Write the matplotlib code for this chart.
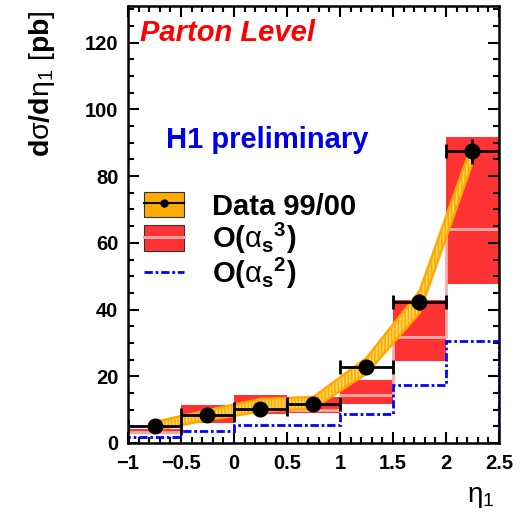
import matplotlib
matplotlib.use("Agg")
import matplotlib.pyplot as plt
from matplotlib.lines import Line2D
from matplotlib.patches import Patch
from matplotlib.ticker import MultipleLocator

# eta_1 bins and cross sections [pb]
eta_edges = [-1.0, -0.5, 0.0, 0.5, 1.0, 1.5, 2.0, 2.5]
eta_mid = [-0.75, -0.25, 0.25, 0.75, 1.25, 1.75, 2.25]
data_xsec = [5.1, 8.3, 10.3, 11.7, 22.7, 42.3, 87.4]
data_err = [0.6, 0.8, 0.9, 1.0, 1.3, 2.5, 3.8]
syst_lo = [3.8, 6.9, 9.4, 10.4, 20.8, 39.0, 84.0]
syst_hi = [6.3, 9.8, 13.2, 13.8, 25.5, 45.5, 90.0]
nlo_lo = [2.6, 6.1, 8.6, 8.9, 11.6, 24.7, 47.6]
nlo_hi = [4.1, 11.3, 14.3, 13.9, 19.0, 43.0, 91.8]
nlo_central = [3.4, 8.3, 10.8, 10.0, 14.4, 31.8, 64.2]
lo_xsec = [1.8, 3.6, 5.3, 5.5, 8.7, 17.3, 30.5]

ORANGE = "#ffaa00"
RED = "#ff3333"
PINK = "#ffaaaa"
BLUE = "#0000ff"
LO_DASH = (0, (3, 1, 1, 1))

plt.rcParams["font.family"] = "Liberation Sans"
plt.rcParams["font.weight"] = "bold"
plt.rcParams["mathtext.fontset"] = "custom"
plt.rcParams["mathtext.rm"] = "Liberation Sans:regular"
plt.rcParams["mathtext.it"] = "Liberation Sans:regular"
plt.rcParams["mathtext.bf"] = "Liberation Sans:bold"
plt.rcParams["mathtext.default"] = "rm"
plt.rcParams["hatch.linewidth"] = 1.2

fig = plt.figure(figsize=(5.31, 5.12), dpi=100)
ax = fig.add_axes([128 / 531, 1 - 443 / 512, 371 / 531, 437 / 512])

# NLO band: red box per bin with the central value as a pink step line
widths = [eta_edges[i + 1] - eta_edges[i] for i in range(len(eta_mid))]
ax.bar(eta_mid, [h - l for h, l in zip(nlo_hi, nlo_lo)], bottom=nlo_lo,
       width=widths, color=RED, linewidth=0, zorder=1)
ax.stairs(nlo_central, eta_edges, baseline=None, color=PINK, lw=2, zorder=2)

# LO prediction
ax.stairs(lo_xsec, eta_edges, baseline=0, color=BLUE, lw=2,
          linestyle=LO_DASH, zorder=2)

# data systematic band
ax.fill_between(eta_mid, syst_lo, syst_hi, facecolor="#ffd966",
                edgecolor=ORANGE, hatch="|||||", lw=1.8, zorder=3)

# data points
ax.errorbar(eta_mid, data_xsec, xerr=[w / 2 for w in widths], fmt="none",
            ecolor="k", elinewidth=2, capsize=5, capthick=2, zorder=4)
ax.errorbar(eta_mid, data_xsec, yerr=data_err, fmt="o", color="k",
            ms=10.5, elinewidth=2, capsize=0, zorder=5)

ax.set_xlim(-1, 2.5)
ax.set_ylim(0, 131)
ax.xaxis.set_major_locator(MultipleLocator(0.5))
ax.xaxis.set_minor_locator(MultipleLocator(0.1))
ax.yaxis.set_major_locator(MultipleLocator(20))
ax.yaxis.set_minor_locator(MultipleLocator(5))
ax.xaxis.set_major_formatter(plt.FuncFormatter(lambda v, p: f"{v:g}".replace("-", "\u2212")))
ax.tick_params(which="both", direction="in", top=True, right=True,
               width=1.5, labelsize=14.5)
ax.tick_params(which="major", length=8)
ax.tick_params(which="minor", length=4)
ax.tick_params(axis="x", pad=8)
ax.tick_params(axis="y", pad=7)
for s in ax.spines.values():
    s.set_linewidth(1.8)

fig.text(42 / 531, 1 - 10 / 512,
         r"$\mathbf{d}\sigma\mathbf{/d}\eta_1\ [\mathbf{pb}]$",
         rotation=90, ha="center", va="top", fontsize=20.5)
fig.text(481 / 531, 1 - 497 / 512, r"$\eta_1$", ha="center", va="center",
         fontsize=20)

ax.text(0.032, 0.938, "Parton Level", transform=ax.transAxes, color="red",
        fontsize=21, fontstyle="italic", fontweight="bold", va="center")
ax.text(0.103, 0.693, "H1 preliminary", transform=ax.transAxes, color="#0000ee",
        fontsize=21, fontweight="bold", va="center")

handles = [
    (Patch(facecolor=ORANGE, edgecolor="#333333", lw=0.8),
     Line2D([], [], color="k", marker="o", ms=5, lw=1.5)),
    (Patch(facecolor=RED, edgecolor="#333333", lw=0.8),
     Line2D([], [], color=PINK, lw=2)),
    Line2D([], [], color=BLUE, lw=2, linestyle=LO_DASH),
]
labels = ["Data 99/00",
          r"$\mathbf{O(}\alpha_{\mathbf{s}}{}^{\mathbf{3}}\mathbf{)}$",
          r"$\mathbf{O(}\alpha_{\mathbf{s}}{}^{\mathbf{2}}\mathbf{)}$"]
ax.legend(handles, labels, loc="upper left", bbox_to_anchor=(0.043, 0.574),
          frameon=False, borderpad=0, borderaxespad=0, fontsize=21,
          handlelength=1.38, handleheight=0.95, handletextpad=0.95,
          labelspacing=0.0)

fig.savefig("out.png", dpi=100)
